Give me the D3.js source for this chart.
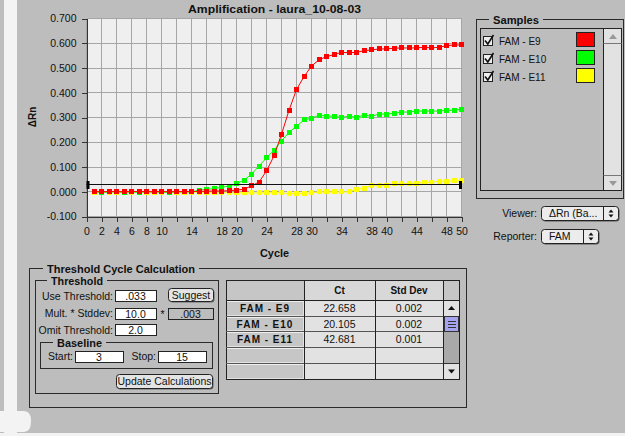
<!DOCTYPE html>
<html><head><meta charset="utf-8">
<script src="https://cdn.jsdelivr.net/npm/d3@7"></script>
<style>
body{margin:0;background:#bdbdbd;}
svg{display:block;}
text{font-family:Arial,"Liberation Sans",sans-serif;fill:#111;}
</style>
</head><body>
<svg id="c" width="625" height="436"></svg>
<script>
// ---------------- DATA ----------------
const cycles = d3.range(1, 51);
const e9 = [0.001,0.000,0.001,0.001,0.000,0.001,0.001,0.001,0.000,0.001,0.000,0.001,0.001,0.001,0.001,
  0.002,0.003,0.003,0.004,0.007,0.010,0.024,0.039,0.084,0.145,0.232,0.329,0.413,0.465,0.508,
  0.533,0.546,0.554,0.563,0.562,0.563,0.570,0.573,0.577,0.577,0.580,0.581,0.581,0.581,0.584,0.581,0.584,0.590,0.593,0.593];
const e10 = [-0.001,-0.002,-0.001,-0.001,-0.002,-0.001,-0.002,-0.001,-0.001,-0.001,-0.002,-0.001,-0.001,-0.001,
  0.007,0.009,0.013,0.018,0.023,0.032,0.047,0.071,0.104,0.137,0.168,0.205,0.240,0.265,0.290,0.297,
  0.309,0.306,0.305,0.300,0.305,0.300,0.310,0.305,0.314,0.314,0.317,0.322,0.322,0.326,0.326,0.326,0.326,0.329,0.329,0.333];
const e11 = [-0.002,-0.002,-0.002,-0.002,-0.002,-0.002,-0.002,-0.002,-0.002,-0.002,-0.003,-0.003,-0.003,-0.002,-0.002,
  -0.003,-0.004,-0.004,-0.004,-0.004,-0.004,-0.005,-0.005,-0.004,-0.004,-0.004,-0.008,-0.006,-0.008,-0.004,
  -0.001,-0.001,-0.001,-0.001,0.000,0.009,0.014,0.025,0.024,0.027,0.032,0.032,0.034,0.035,0.038,0.038,0.043,0.043,0.044,0.045];
const threshold = 0.033;
const yTicks = [-0.1,0,0.1,0.2,0.3,0.4,0.5,0.6,0.7];
const xGrid = d3.range(0, 51, 2);
const xLabels = [0,2,4,6,8,10,14,18,20,24,28,30,34,38,40,44,48,50];
const sampleNames = ["FAM - E9","FAM - E10","FAM - E11"];
const sampleColors = ["#ff0000","#00ff00","#ffff00"];
const ctValues = ["22.658","20.105","42.681"];
const stdDevs = ["0.002","0.002","0.001"];
const chartTitle = "Amplification - laura_10-08-03";

// ---------------- SETUP ----------------
const BG = "#bdbdbd";
const svg = d3.select("#c");
svg.append("rect").attr("width",625).attr("height",436).attr("fill",BG);
// left window edge decoration
svg.append("rect").attr("x",4).attr("y",0).attr("width",13).attr("height",436).attr("fill","#f3f3f3");
svg.append("path").attr("d","M0,411 H24 Q31,411 31,421 Q31,432 24,432 H0 Z").attr("fill","#f3f3f3");
svg.append("rect").attr("x",0).attr("y",433).attr("width",625).attr("height",3).attr("fill","#f3f3f3");

// ---------------- PLOT ----------------
const x = d3.scaleLinear().domain([0,50]).range([86.5,461.5]);
const y = d3.scaleLinear().domain([-0.1,0.7]).range([216.5,18.5]);

svg.append("rect").attr("x",x(0)).attr("y",y(0.7)).attr("width",x(50)-x(0)).attr("height",y(-0.1)-y(0.7)).attr("fill","#efefef");
const grid = svg.append("g").attr("shape-rendering","crispEdges").attr("stroke","#a6a6a6").attr("stroke-width",1);
grid.selectAll("line.v").data(xGrid).join("line").attr("class","v")
  .attr("x1",d=>x(d)).attr("x2",d=>x(d)).attr("y1",y(0.7)).attr("y2",y(-0.1));
grid.selectAll("line.h").data(yTicks).join("line").attr("class","h")
  .attr("y1",d=>y(d)).attr("y2",d=>y(d)).attr("x1",x(0)).attr("x2",x(50));

const yAxis = d3.axisLeft(y).tickValues(yTicks).tickFormat(d=>d.toFixed(3)).tickSize(5).tickSizeOuter(0).tickPadding(5);
const gy = svg.append("g").attr("transform",`translate(${x(0)},0)`).call(yAxis);
const xAxis = d3.axisBottom(x).tickValues(xGrid).tickFormat(d=>xLabels.includes(d)?String(d):"").tickSize(5).tickSizeOuter(0).tickPadding(6);
const gx = svg.append("g").attr("transform",`translate(0,${y(-0.1)})`).call(xAxis);
[gx,gy].forEach(g=>{
  g.attr("shape-rendering","crispEdges");
  g.selectAll("path.domain").attr("stroke","#333");
  g.selectAll(".tick line").attr("stroke","#333");
  g.selectAll(".tick text").attr("font-size",10.5).attr("fill","#222").attr("font-family","Arial, 'Liberation Sans', sans-serif");
});

svg.append("text").attr("x",274.5).attr("y",13).attr("text-anchor","middle").attr("font-weight","bold")
  .attr("font-size",11).attr("textLength",173).attr("lengthAdjust","spacingAndGlyphs").text(chartTitle);
svg.append("text").attr("x",274.5).attr("y",257).attr("text-anchor","middle").attr("font-weight","bold")
  .attr("font-size",11).attr("textLength",29).attr("lengthAdjust","spacingAndGlyphs").text("Cycle");
svg.append("text").attr("transform","translate(36,117) rotate(-90)").attr("text-anchor","middle").attr("font-weight","bold")
  .attr("font-size",10).text("ΔRn");

const series = [
  {vals:e11,color:sampleColors[2]},
  {vals:e10,color:sampleColors[1]},
  {vals:e9,color:sampleColors[0]}
];
const line = d3.line().x((d,i)=>x(cycles[i])).y(d=>y(d));
series.forEach(s=>{
  svg.append("path").datum(s.vals).attr("d",line).attr("fill","none").attr("stroke",s.color).attr("stroke-width",1);
  svg.append("g").selectAll("rect").data(s.vals).join("rect")
    .attr("x",(d,i)=>x(cycles[i])-2.5).attr("y",d=>y(d)-2.5).attr("width",5).attr("height",5)
    .attr("fill",s.color).attr("shape-rendering","crispEdges");
});
// threshold
svg.append("line").attr("x1",x(0)).attr("x2",x(50)).attr("y1",Math.round(y(threshold))+0.5).attr("y2",Math.round(y(threshold))+0.5)
  .attr("stroke","#111").attr("stroke-width",1);
svg.append("rect").attr("x",x(0)).attr("y",Math.round(y(threshold))-3).attr("width",3).attr("height",8).attr("fill","#000");
svg.append("rect").attr("x",x(50)-2.5).attr("y",Math.round(y(threshold))-3).attr("width",3).attr("height",8).attr("fill","#000");

// ---------------- UI HELPERS ----------------
function groupBox(x0,y0,w,h,title,tx,tw){
  svg.append("rect").attr("x",x0+0.5).attr("y",y0+0.5).attr("width",w).attr("height",h)
    .attr("fill","none").attr("stroke","#2a2a2a").attr("shape-rendering","crispEdges");
  svg.append("rect").attr("x",tx-4).attr("y",y0-6).attr("width",tw+8).attr("height",12).attr("fill",BG);
  svg.append("text").attr("x",tx).attr("y",y0+4.5).attr("font-weight","bold").attr("font-size",11)
    .attr("textLength",tw).attr("lengthAdjust","spacingAndGlyphs").text(title);
}
function field(x0,y0,w,h,txt,fill){
  svg.append("rect").attr("x",x0+0.5).attr("y",y0+0.5).attr("width",w).attr("height",h)
    .attr("fill",fill||"#ffffff").attr("stroke","#222").attr("shape-rendering","crispEdges");
  svg.append("text").attr("x",x0+w/2).attr("y",y0+h/2+4).attr("text-anchor","middle").attr("font-size",10.5).text(txt);
}
function label(xr,yc,txt){
  svg.append("text").attr("x",xr).attr("y",yc+3.5).attr("text-anchor","end").attr("font-size",10.5).text(txt);
}
function button(x0,y0,w,h,txt){
  svg.append("rect").attr("x",x0+1.5).attr("y",y0+1.5).attr("width",w).attr("height",h).attr("rx",3).attr("fill","#666");
  svg.append("rect").attr("x",x0+0.5).attr("y",y0+0.5).attr("width",w).attr("height",h).attr("rx",3)
    .attr("fill","#e4e4e4").attr("stroke","#222");
  svg.append("text").attr("x",x0+w/2+0.5).attr("y",y0+h/2+4).attr("text-anchor","middle").attr("font-size",10.5).text(txt);
}
function popup(x0,y0,w,h,divX,txt){
  svg.append("rect").attr("x",x0+1.5).attr("y",y0+1.5).attr("width",w).attr("height",h).attr("rx",3).attr("fill","#555");
  svg.append("rect").attr("x",x0+0.5).attr("y",y0+0.5).attr("width",w).attr("height",h).attr("rx",3)
    .attr("fill","#ececec").attr("stroke","#222");
  svg.append("line").attr("x1",divX+0.5).attr("x2",divX+0.5).attr("y1",y0+1).attr("y2",y0+h)
    .attr("stroke","#222").attr("shape-rendering","crispEdges");
  const cx = divX + (x0+w-divX)/2 + 0.5, cy = y0+h/2+0.5;
  svg.append("path").attr("d",`M${cx-2.5},${cy-1} L${cx+2.5},${cy-1} L${cx},${cy-4} Z M${cx-2.5},${cy+1} L${cx+2.5},${cy+1} L${cx},${cy+4} Z`).attr("fill","#111");
  svg.append("text").attr("x",x0+8).attr("y",y0+h/2+4).attr("font-size",10.5).text(txt);
}

// ---------------- SAMPLES PANEL ----------------
groupBox(476,19,147,179,"Samples",493,46);
svg.append("rect").attr("x",480.5).attr("y",28.5).attr("width",141).attr("height",162)
  .attr("fill",BG).attr("stroke","#222").attr("shape-rendering","crispEdges");
svg.append("rect").attr("x",603.5).attr("y",28.5).attr("width",18).attr("height",162)
  .attr("fill","#e2e2e2").attr("stroke","#222").attr("shape-rendering","crispEdges");
svg.append("line").attr("x1",603.5).attr("x2",621.5).attr("y1",43.5).attr("y2",43.5).attr("stroke","#777");
svg.append("line").attr("x1",603.5).attr("x2",621.5).attr("y1",175.5).attr("y2",175.5).attr("stroke","#777");
svg.append("path").attr("d","M609,39 L617,39 L613,34 Z").attr("fill","#999");
svg.append("path").attr("d","M609,181 L617,181 L613,186 Z").attr("fill","#999");
const rows = svg.append("g").selectAll("g").data(sampleNames).join("g")
  .attr("transform",(d,i)=>`translate(0,${i*18})`);
rows.append("rect").attr("x",483.5).attr("y",36.5).attr("width",9).attr("height",9)
  .attr("fill","#eeeeee").attr("stroke","#222").attr("shape-rendering","crispEdges");
rows.append("path").attr("d","M485,40.5 L487.8,44 L493.5,35").attr("fill","none").attr("stroke","#111").attr("stroke-width",1.6);
rows.append("text").attr("x",499).attr("y",45).attr("font-size",10).text(d=>d);
rows.append("rect").attr("x",576.5).attr("y",32.5).attr("width",18).attr("height",14)
  .attr("fill",(d,i)=>sampleColors[i]).attr("stroke","#222").attr("shape-rendering","crispEdges");

label(537,213.5,"Viewer:");
popup(541,206,77,14,603,"ΔRn (Ba...");
label(537,236.5,"Reporter:");
popup(541,229,57,14,583,"FAM");

// ---------------- THRESHOLD PANEL ----------------
groupBox(29,268,437,139,"Threshold Cycle Calculation",47,148);
groupBox(35,280,183,113,"Threshold",51,52);
label(113,296,"Use Threshold:");
field(115,290,41,11,".033");
button(168,288,45,13,"Suggest");
label(113,313.5,"Mult. * Stddev:");
field(115,308,41,11,"10.0");
svg.append("text").attr("x",162.5).attr("y",318).attr("text-anchor","middle").attr("font-size",10.5).text("*");
field(168,308,45,11,".003",BG);
label(113,330,"Omit Threshold:");
field(115,324,41,11,"2.0");
groupBox(40,342,172,26,"Baseline",57,45);
label(73,356.5,"Start:");
field(75,351,48,11,"3");
label(156,356.5,"Stop:");
field(158,351,48,11,"15");
button(116,374,96,14,"Update Calculations");

// ---------------- RESULTS TABLE ----------------
const tx0 = 226, colX = [226,304,375,443,459], headTop = 280, headH = 20, rowH = 15.7, nRows = 5;
const tg = svg.append("g").attr("shape-rendering","crispEdges");
tg.append("rect").attr("x",tx0+0.5).attr("y",headTop+0.5).attr("width",colX[4]-tx0).attr("height",headH+rowH*nRows)
  .attr("fill","#e2e2e2").attr("stroke","#222");
// header cells
tg.append("rect").attr("x",colX[0]+1).attr("y",headTop+1).attr("width",colX[1]-colX[0]-1).attr("height",headH-1).attr("fill","#c6c6c6");
tg.append("rect").attr("x",colX[1]+1).attr("y",headTop+1).attr("width",colX[3]-colX[1]-1).attr("height",headH-1).attr("fill","#d8d8d8");
tg.append("rect").attr("x",colX[3]+1).attr("y",headTop+1).attr("width",colX[4]-colX[3]-1).attr("height",headH-1).attr("fill","#c6c6c6");
// row header cells
d3.range(nRows).forEach(r=>{
  const yy = headTop+headH+r*rowH;
  tg.append("rect").attr("x",colX[0]+1).attr("y",yy+1).attr("width",colX[1]-colX[0]-2).attr("height",rowH-2).attr("fill","#c6c6c6");
  tg.append("line").attr("x1",colX[0]+1).attr("x2",colX[1]).attr("y1",Math.round(yy)+1.5).attr("y2",Math.round(yy)+1.5).attr("stroke","#eeeeee");
  tg.append("line").attr("x1",colX[0]).attr("x2",colX[4]-16).attr("y1",Math.round(yy)+0.5).attr("y2",Math.round(yy)+0.5).attr("stroke","#555");
});
tg.append("line").attr("x1",colX[0]).attr("x2",colX[4]).attr("y1",headTop+headH+0.5).attr("y2",headTop+headH+0.5).attr("stroke","#222");
[colX[1],colX[2],colX[3]].forEach(cx=>{
  tg.append("line").attr("x1",cx+0.5).attr("x2",cx+0.5).attr("y1",headTop).attr("y2",headTop+headH+rowH*nRows).attr("stroke","#222");
});
svg.append("text").attr("x",(colX[1]+colX[2])/2).attr("y",headTop+14).attr("text-anchor","middle").attr("font-weight","bold").attr("font-size",10).text("Ct");
svg.append("text").attr("x",(colX[2]+colX[3])/2).attr("y",headTop+14).attr("text-anchor","middle").attr("font-weight","bold").attr("font-size",10).text("Std Dev");
sampleNames.forEach((n,i)=>{
  const yy = headTop+headH+i*rowH+rowH/2+4;
  svg.append("text").attr("x",(colX[0]+colX[1])/2).attr("y",yy).attr("text-anchor","middle").attr("font-weight","bold")
    .attr("font-size",10).attr("letter-spacing",1).text(n);
  svg.append("text").attr("x",(colX[1]+colX[2])/2).attr("y",yy).attr("text-anchor","middle").attr("font-size",10.5).attr("fill","#333").text(ctValues[i]);
  svg.append("text").attr("x",(colX[2]+colX[3])/2).attr("y",yy).attr("text-anchor","middle").attr("font-size",10.5).attr("fill","#333").text(stdDevs[i]);
});
// table scrollbar
const sbx = colX[3], sbTop = headTop+headH, sbBot = headTop+headH+rowH*nRows;
tg.append("rect").attr("x",sbx+1).attr("y",sbTop+16).attr("width",15).attr("height",sbBot-sbTop-31).attr("fill","#a9a9a9");
tg.append("rect").attr("x",sbx+1).attr("y",sbTop+1).attr("width",15).attr("height",15).attr("fill","#e2e2e2");
tg.append("rect").attr("x",sbx+1).attr("y",sbBot-15).attr("width",15).attr("height",15).attr("fill","#e2e2e2");
tg.append("rect").attr("x",sbx+1.5).attr("y",sbTop+16.5).attr("width",14).attr("height",15).attr("fill","#a3a3f0").attr("stroke","#333");
[21,24,27].forEach(o=>tg.append("line").attr("x1",sbx+5).attr("x2",sbx+13).attr("y1",sbTop+o+0.5).attr("y2",sbTop+o+0.5).attr("stroke","#333"));
tg.append("line").attr("x1",sbx+1).attr("x2",sbx+16).attr("y1",sbBot-15.5).attr("y2",sbBot-15.5).attr("stroke","#333");
svg.append("path").attr("d",`M${sbx+5},${sbTop+10} L${sbx+12},${sbTop+10} L${sbx+8.5},${sbTop+6} Z`).attr("fill","#111");
svg.append("path").attr("d",`M${sbx+5},${sbBot-9} L${sbx+12},${sbBot-9} L${sbx+8.5},${sbBot-5} Z`).attr("fill","#111");
</script>
</body></html>
